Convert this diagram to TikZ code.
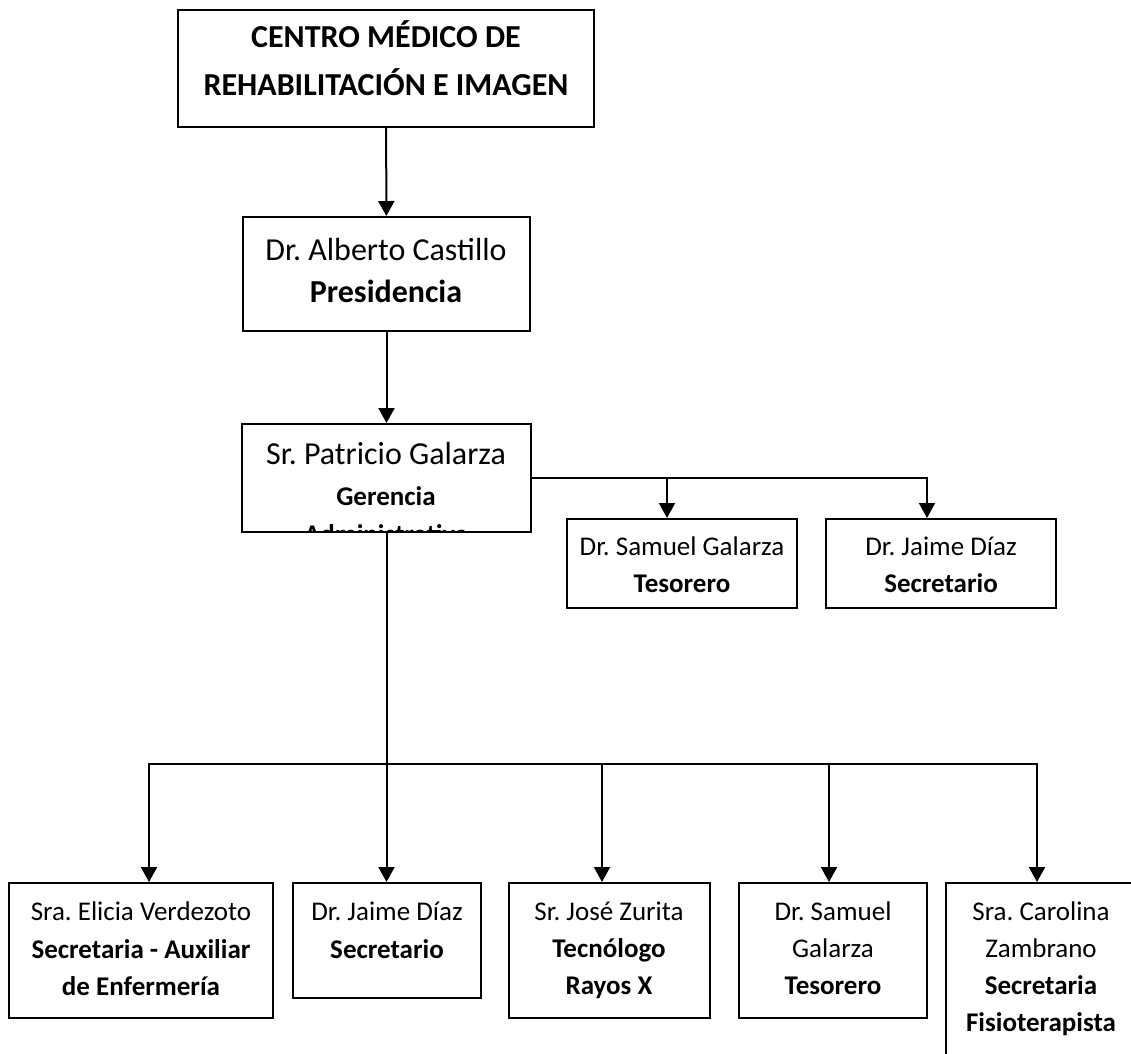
\documentclass[tikz,border=0pt]{standalone}
\usepackage{fontspec}
\setmainfont{Carlito}
\usetikzlibrary{arrows.meta,fit}
\frenchspacing
\begin{document}
\begin{tikzpicture}[x=1pt,y=-1pt,
  boxnode/.style={draw, line width=2pt, inner sep=0pt, rectangle},
  link/.style={line width=2pt},
  arr/.style={link, -{Triangle[width=16pt,length=15pt]}},
  txt/.style={anchor=base, inner sep=0pt, font=\fontsize{27}{32}\selectfont},
  txtb/.style={anchor=base, inner sep=0pt, font=\fontsize{27}{32}\selectfont\bfseries},
  bigt/.style={anchor=base, inner sep=0pt, font=\fontsize{32}{38}\selectfont},
  bigtb/.style={anchor=base, inner sep=0pt, font=\fontsize{32}{38}\selectfont\bfseries},
]
\useasboundingbox (0,0) rectangle (1131,1053);
\fill[white] (0,0) rectangle (1131,1053);
\clip (0,0) rectangle (1131,1053);

% boxes
\node[boxnode, fit={(178,10) (594,127)}] (top) {};
\node[boxnode, fit={(243,217) (530,331)}] (pres) {};
\node[boxnode, fit={(242,424) (531,532)}] (ger) {};
\node[boxnode, fit={(567,519) (797,608)}] (tes1) {};
\node[boxnode, fit={(826,519) (1056,608)}] (sec1) {};
\node[boxnode, fit={(9,883) (273,1018)}] (b1) {};
\node[boxnode, fit={(293,883) (481,998)}] (b2) {};
\node[boxnode, fit={(509,883) (710,1018)}] (b3) {};
\node[boxnode, fit={(739,883) (927,1018)}] (b4) {};
\node[boxnode, fit={(946,883) (1140,1080)}] (b5) {};

% labels
\node[bigtb] (topa) at (386,47) {CENTRO MÉDICO DE};
\node[bigtb] (topb) at (386,95) {REHABILITACIÓN E IMAGEN};

\node[bigt] (presa) at (386,260) {Dr. Alberto Castillo};
\node[bigtb] (presb) at (386,302) {Presidencia};

% the third line of this box is cut off by its frame
\begin{scope}
  \clip (242,424) rectangle (531,531);
  \node[bigt] (gera) at (386,464) {Sr. Patricio Galarza};
  \node[txtb] (gerb) at (386,505) {Gerencia};
  \node[txtb] (gerc) at (386,543) {Administrativa};
\end{scope}

\node[txt] (tes1a) at (682,555) {Dr. Samuel Galarza};
\node[txtb] (tes1b) at (682,592) {Tesorero};
\node[txt] (sec1a) at (941,555) {Dr. Jaime Díaz};
\node[txtb] (sec1b) at (941,592) {Secretario};

\node[txt] (b1a) at (141,920) {Sra. Elicia Verdezoto};
\node[txtb] (b1b) at (141,958) {Secretaria - Auxiliar};
\node[txtb] (b1c) at (141,995) {de Enfermería};

\node[txt] (b2a) at (387,920) {Dr. Jaime Díaz};
\node[txtb] (b2b) at (387,958) {Secretario};

\node[txt] (b3a) at (609,920) {Sr. José Zurita};
\node[txtb] (b3b) at (609,957) {Tecnólogo};
\node[txtb] (b3c) at (609,994) {Rayos X};

\node[txt] (b4a) at (833,920) {Dr. Samuel};
\node[txt] (b4b) at (833,957) {Galarza};
\node[txtb] (b4c) at (833,994) {Tesorero};

\node[txt] (b5a) at (1041,920) {Sra. Carolina};
\node[txt] (b5b) at (1041,957) {Zambrano};
\node[txtb] (b5c) at (1041,994) {Secretaria};
\node[txtb] (b5d) at (1041,1031) {Fisioterapista};

% connectors
\draw[arr] (top) -- (pres);
\draw[arr] (pres) -- (ger);

\coordinate (kt) at (667,478);
\coordinate (ks) at (927,478);
\draw[arr] (ger.east) -| (ks |- sec1.north);
\draw[arr] (kt) -- (kt |- tes1.north);

\coordinate (j1) at (149,764);
\coordinate (j3) at (602,764);
\coordinate (j4) at (829,764);
\coordinate (j5) at (1037,764);
\draw[arr] (ger.south) -- (ger.south |- b2.north);
\draw[arr] (ger.south |- j1) -| (j1 |- b1.north);
\draw[arr] (ger.south |- j5) -| (j5 |- b5.north);
\draw[arr] (j3) -- (j3 |- b3.north);
\draw[arr] (j4) -- (j4 |- b4.north);
\end{tikzpicture}
\end{document}
